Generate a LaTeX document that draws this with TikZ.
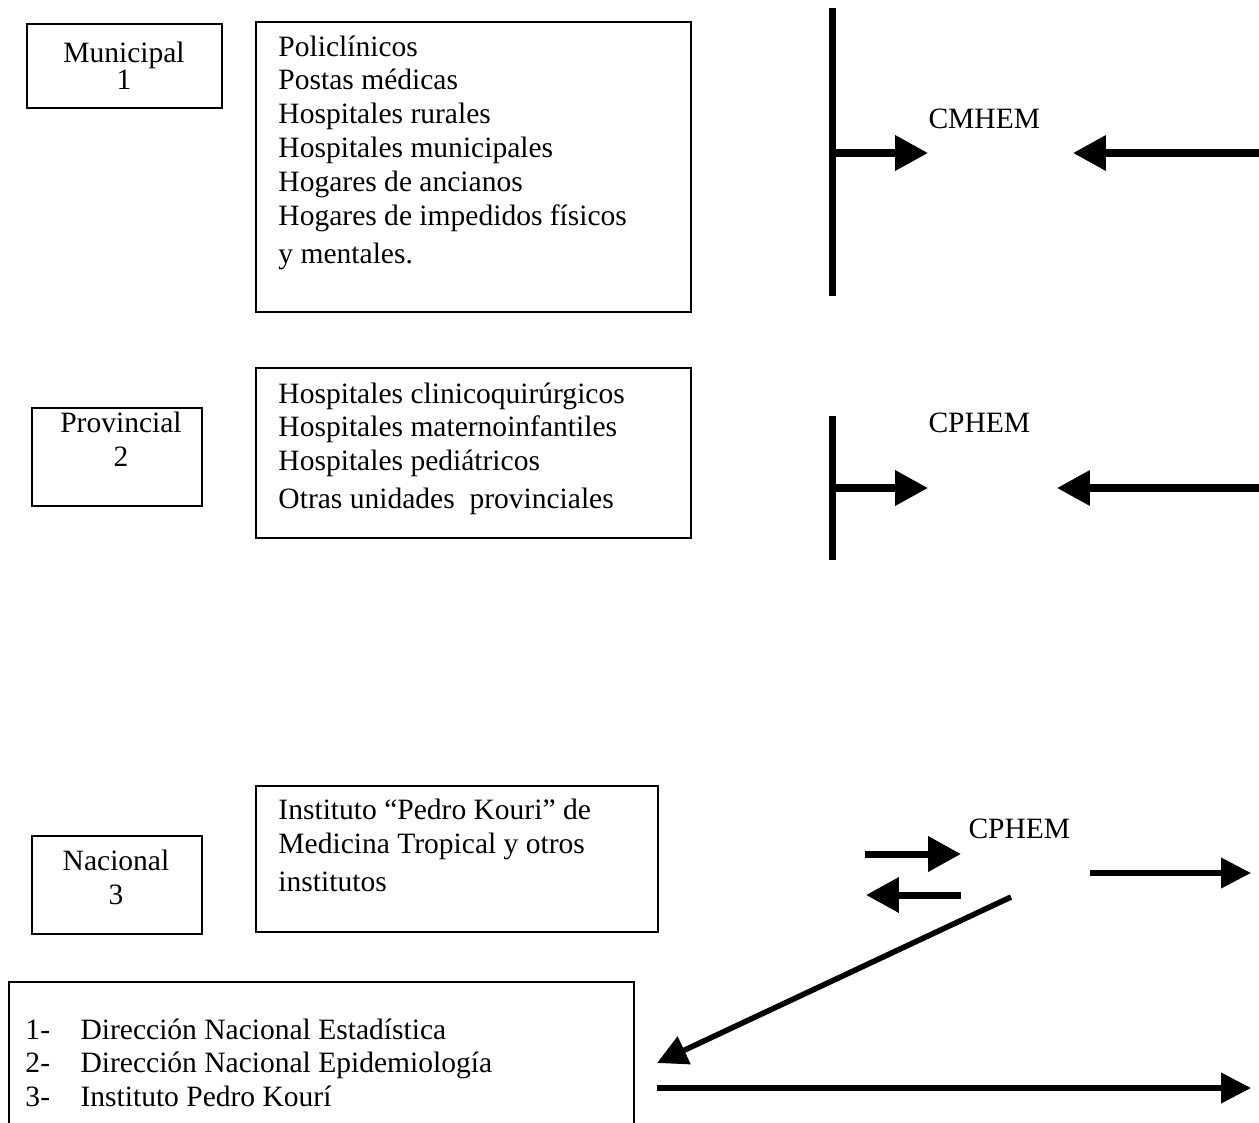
\documentclass[tikz,border=0pt]{standalone}
\usepackage{fontspec}
\setmainfont{Liberation Serif}
\usetikzlibrary{arrows.meta,fit}

\tikzset{
	box/.style={draw, line width=0.8pt, inner sep=0pt},
	list/.style={inner sep=0pt, align=left, anchor=north west},
	level/.style={inner sep=0pt, align=center, anchor=north},
	bar/.style={line width=2.85pt},
	fat/.style={line width=2.85pt, -{Triangle[length=13.4pt, width=13.8pt]}},
	slim/.style={line width=2.25pt, -{Triangle[length=12.2pt, width=12pt]}},
}

\begin{document}
\begin{tikzpicture}[x=0.4065pt, y=-0.4065pt,
		every node/.style={font=\fontsize{12pt}{13.8pt}\selectfont}]
			%%%%% START %%%%%
			\useasboundingbox (0,0) rectangle (1259,1122);
			
			% municipal
			\node[box, fit={(27,24) (222,108)}] (muni) {};
			\node[level] (muniTxt) at (124,42) {Municipal\\[-3.2pt]1};
			\node[box, fit={(256,22) (691,312)}] (muniUnits) {};
			\node[list] (muniList) at (278,35) {Policlínicos\\Postas médicas\\Hospitales rurales\\Hospitales municipales\\Hogares de ancianos\\Hogares de impedidos físicos\\[1.4pt]y mentales.};
			
			% provincial
			\node[box, fit={(32,408) (202,506)}] (prov) {};
			\node[level] (provTxt) at (121,412) {Provincial\\2};
			\node[box, fit={(256,368) (691,538)}] (provUnits) {};
			\node[list] (provList) at (278,382) {Hospitales clinicoquirúrgicos\\Hospitales maternoinfantiles\\Hospitales pediátricos\\[1.4pt]Otras unidades\ \ provinciales};
			
			% nacional
			\node[box, fit={(32,836) (202,934)}] (nac) {};
			\node[level] (nacTxt) at (116,850) {Nacional\\3};
			\node[box, fit={(256,786) (658,932)}] (nacUnits) {};
			\node[list] (nacList) at (278,799) {Instituto “Pedro Kouri” de\\Medicina Tropical y otros\\[1.4pt]institutos};
			
			\node[box, fit={(9,982) (634,1150)}] (dirs) {};
			\node[list] (dirsList) at (25,1018) {\makebox[22.4pt][l]{1-}Dirección Nacional Estadística\\\makebox[22.4pt][l]{2-}Dirección Nacional Epidemiología\\\makebox[22.4pt][l]{3-}Instituto Pedro Kourí};
			
			% centros
			\node[inner sep=0pt, anchor=base west] (cmhem) at (928,129) {CMHEM};
			\node[inner sep=0pt, anchor=base west] (cphemA) at (928,432) {CPHEM};
			\node[inner sep=0pt, anchor=base west] (cphemB) at (968,838) {CPHEM};
			
			\coordinate (cmTop) at (832,8);
			\coordinate (cmBot) at (832,296);
			\coordinate (cmJoin) at (832,153);
			\coordinate (cmIn) at (928,153);
			\coordinate (cmFar) at (1264,153);
			\coordinate (cmBack) at (1073,153);
			\draw[bar] (cmTop) -- (cmBot);
			\draw[fat] (cmJoin) -- (cmIn);
			\draw[fat] (cmFar) -- (cmBack);
			
			\coordinate (cpTop) at (832,416);
			\coordinate (cpBot) at (832,560);
			\coordinate (cpJoin) at (832,488);
			\coordinate (cpIn) at (928,488);
			\coordinate (cpFar) at (1264,488);
			\coordinate (cpBack) at (1057,488);
			\draw[bar] (cpTop) -- (cpBot);
			\draw[fat] (cpJoin) -- (cpIn);
			\draw[fat] (cpFar) -- (cpBack);
			
			\coordinate (inA) at (865,854);
			\coordinate (inB) at (961,854);
			\coordinate (outA) at (961,895);
			\coordinate (outB) at (866,895);
			\coordinate (fwdA) at (1090,873);
			\coordinate (fwdB) at (1251,873);
			\coordinate (diagA) at (1011,897);
			\coordinate (diagB) at (657,1063);
			\coordinate (baseA) at (657,1088);
			\coordinate (baseB) at (1251,1088);
			\draw[fat] (inA) -- (inB);
			\draw[fat] (outA) -- (outB);
			\draw[slim] (fwdA) -- (fwdB);
			\draw[slim] (diagA) -- (diagB);
			\draw[slim] (baseA) -- (baseB);
			
			%%%%% END %%%%%
\end{tikzpicture}
\end{document}
